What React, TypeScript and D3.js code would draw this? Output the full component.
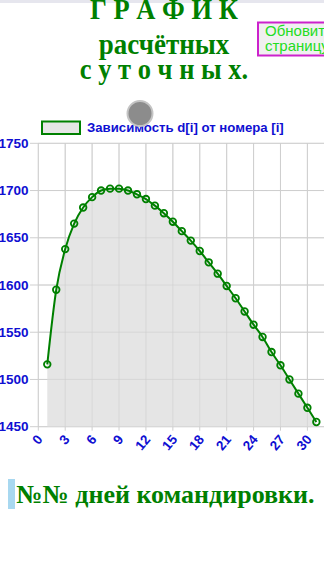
import React from "react";
import * as d3 from "d3";

const days = Array.from({ length: 31 }, (_, i) => i + 1);
const values = [1516, 1595, 1638, 1665, 1682, 1693, 1700, 1702, 1702, 1700, 1696, 1691, 1684, 1676, 1667, 1657, 1647, 1636, 1624, 1612, 1599, 1586, 1572, 1558, 1545, 1529, 1515, 1500, 1485, 1470, 1455];
const yTicks = [1450, 1500, 1550, 1600, 1650, 1700, 1750];
const xTicks = [0, 3, 6, 9, 12, 15, 18, 21, 24, 27, 30];
const titleLines = ["Г Р А Ф И К", "расчётных", "с у т о ч н ы х."];
const legendLabel = "Зависимость d[i] от номера [i]";
const buttonLines = ["Обновить", "страницу"];
const bottomLabel = "№№ дней командировки.";

const GREEN = "#008000";
const BLUE = "#0f0fd2";
const GRID = "#cfcfcf";
const SERIF = "'Liberation Serif', 'Times New Roman', serif";
const SANS = "'Liberation Sans', Arial, sans-serif";

export default function App() {
  const x = d3.scaleLinear().domain([0, 33]).range([38.3, 334.3]);
  const y = d3.scaleLinear().domain([1450, 1750]).range([426.7, 143.3]);
  const pts = days.map((d, i) => [d, values[i]] as [number, number]);
  const line = d3.line<[number, number]>().x(d => x(d[0])).y(d => y(d[1])).curve(d3.curveMonotoneX);
  const area = d3.area<[number, number]>().x(d => x(d[0])).y0(y(1450)).y1(d => y(d[1])).curve(d3.curveMonotoneX);
  const titleBaselines = [18.5, 53.5, 78.5];
  const titleSizes = [26.5, 27, 26.5];

  return (
    <div style={{ position: "absolute", left: 0, top: 0, width: 324, height: 576, overflow: "hidden", background: "#fff" }}>
      <svg width={324} height={576} style={{ display: "block" }}>
        <rect x={0} y={0} width={324} height={3} fill="#e6e6ee" />
        {titleLines.map((t, i) => (
          <text key={i} transform={`translate(164,${titleBaselines[i]}) scale(1,1.12)`} textAnchor="middle" fontFamily={SERIF} fontWeight="bold" fontSize={titleSizes[i]} fill={GREEN}>{t}</text>
        ))}
        <rect x={258} y={22.5} width={80} height={33} fill="#f0f0f0" stroke="#cc22cc" strokeWidth={2} />
        {buttonLines.map((t, i) => (
          <text key={i} x={265} y={35.5 + i * 15} fontFamily={SANS} fontSize={15} fill="#22dd22">{t}</text>
        ))}
        {/* legend */}
        <rect x={42} y={121.5} width={38} height={12.5} fill="#e6e6e6" stroke={GREEN} strokeWidth={2} />
        <text x={87} y={132} fontFamily={SANS} fontWeight="bold" fontSize={13.2} fill={BLUE}>{legendLabel}</text>
        {/* grid */}
        {yTicks.map(t => (
          <line key={"h" + t} x1={30} x2={324} y1={y(t)} y2={y(t)} stroke={GRID} strokeWidth={1} />
        ))}
        {xTicks.map(t => (
          <line key={"v" + t} x1={x(t)} x2={x(t)} y1={y(1750)} y2={y(1450) + 4} stroke={GRID} strokeWidth={1} />
        ))}
        <path d={area(pts) || ""} fill="#e5e5e5" />
        {yTicks.map(t => (
          <line key={"h2" + t} x1={x(0)} x2={324} y1={y(t)} y2={y(t)} stroke={GRID} strokeOpacity={0.6} strokeWidth={1} />
        ))}
        {xTicks.map(t => (
          <line key={"v2" + t} x1={x(t)} x2={x(t)} y1={y(1750)} y2={y(1450)} stroke={GRID} strokeOpacity={0.6} strokeWidth={1} />
        ))}
        {yTicks.map(t => (
          <text key={"yl" + t} x={28.5} y={y(t)} dy="0.35em" textAnchor="end" fontFamily={SANS} fontWeight="bold" fontSize={13.5} fill={BLUE}>{t}</text>
        ))}
        {xTicks.map(t => (
          <text key={"xl" + t} transform={`translate(${x(t) + 1.5},${y(1450) + 10}) rotate(-50)`} dy="0.35em" textAnchor="end" fontFamily={SANS} fontWeight="bold" fontSize={13.5} fill={BLUE}>{t}</text>
        ))}
        <path d={line(pts) || ""} fill="none" stroke={GREEN} strokeWidth={2} />
        {pts.map((p, i) => (
          <circle key={i} cx={x(p[0])} cy={y(p[1])} r={3.3} fill="none" stroke={GREEN} strokeWidth={1.8} />
        ))}
        <circle cx={140} cy={113.5} r={12.5} fill="#8c8c8c" stroke="#c4c4c4" strokeWidth={2} />
        <rect x={8} y={479} width={7} height={30} fill="#a8d8f0" />
        <text x={16.5} y={502.5} fontFamily={SERIF} fontWeight="bold" fontSize={26} fill={GREEN}>{bottomLabel}</text>
      </svg>
    </div>
  );
}
